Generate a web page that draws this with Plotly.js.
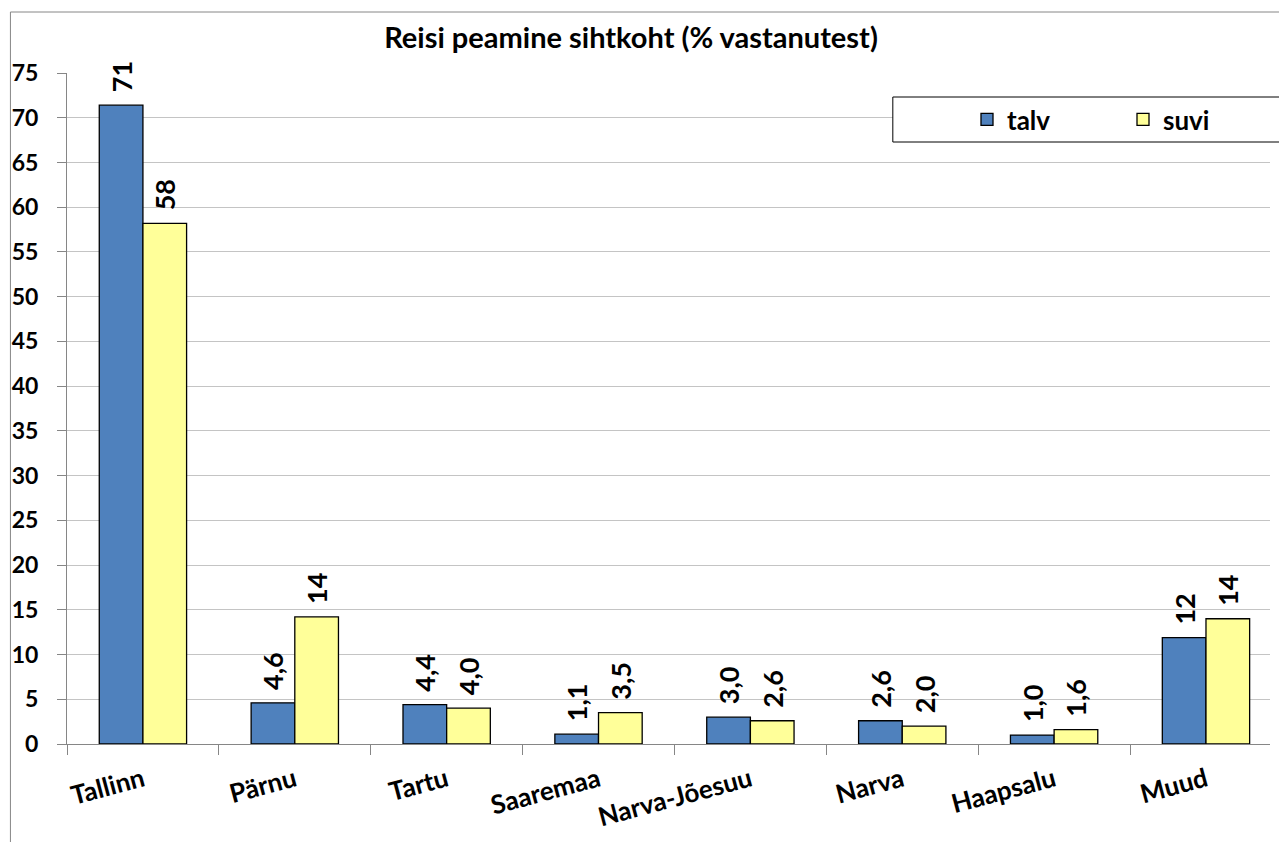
<!DOCTYPE html>
<html>
<head>
<meta charset="utf-8">
<script src="https://cdn.plot.ly/plotly-3.0.1.min.js"></script>
<style>
html,body{margin:0;padding:0;overflow:hidden;background:#fff;}
#chart{width:1279px;height:842px;}
</style>
</head>
<body>
<div id="chart"></div>
<script>
const categories = ["Tallinn","Pärnu","Tartu","Saaremaa","Narva-Jõesuu","Narva","Haapsalu","Muud"];
const talvValues = [71.4, 4.6, 4.4, 1.1, 3.0, 2.6, 1.0, 11.9];
const suviValues = [58.2, 14.2, 4.0, 3.5, 2.6, 2.0, 1.6, 14.0];
const talvLabels = ["71","4,6","4,4","1,1","3,0","2,6","1,0","12"];
const suviLabels = ["58","14","4,0","3,5","2,6","2,0","1,6","14"];
const yTicks = [0,5,10,15,20,25,30,35,40,45,50,55,60,65,70,75];

const FONT = "Lato, 'Open Sans', sans-serif";
const W = 1279, H = 842, ML = 67, MT = 73, MB = 98, MR = 0;
const pw = W - ML - MR, ph = H - MT - MB;
const px = x => (x - ML) / pw;
const py = y => (H - MB - y) / ph;
const pad = s => '\u00a0\u2009' + s;

const common = {
  type: 'bar',
  x: categories,
  textposition: 'outside',
  textangle: -90,
  constraintext: 'none',
  cliponaxis: false,
  textfont: {family: FONT, size: 27, color: '#000', weight: 700},
  hoverinfo: 'skip'
};

const traces = [
  Object.assign({}, common, {
    name: 'talv', y: talvValues, text: talvLabels.map(pad),
    marker: {color: '#4F81BD', line: {color: '#000', width: 1.3}}
  }),
  Object.assign({}, common, {
    name: 'suvi', y: suviValues, text: suviLabels.map(pad),
    marker: {color: '#FFFF99', line: {color: '#000', width: 1.3}}
  })
];

const layout = {
  width: W, height: H,
  margin: {l: ML, r: MR, t: MT, b: MB, pad: 0},
  paper_bgcolor: '#fff', plot_bgcolor: '#fff',
  font: {family: FONT, size: 24, color: '#000'},
  barmode: 'group',
  bargap: 0.425,
  bargroupgap: 0,
  title: {
    text: 'Reisi peamine sihtkoht (% vastanutest)',
    font: {family: FONT, size: 29, color: '#000', weight: 700},
    x: 631 / W, xref: 'container', xanchor: 'center',
    y: 1 - 38 / H, yref: 'container', yanchor: 'middle'
  },
  xaxis: {
    type: 'category',
    range: [-0.5, -0.5 + pw / 153],
    tickangle: -15,
    tickson: 'boundaries',
    ticks: 'outside', ticklen: 10, tickcolor: '#868686', tickwidth: 1,
    ticklabelstandoff: 10,
    showline: true, linecolor: '#868686', linewidth: 1,
    showgrid: false,
    tickfont: {family: FONT, size: 26, color: '#000', weight: 700},
    fixedrange: true
  },
  yaxis: {
    range: [0, 75],
    tickvals: yTicks,
    ticktext: yTicks.map(String),
    ticks: 'outside', ticklen: 9, tickcolor: '#868686', tickwidth: 1,
    ticklabelstandoff: 14,
    showline: true, linecolor: '#868686', linewidth: 1,
    showgrid: true, gridcolor: '#C4C4C4', gridwidth: 1,
    zeroline: false,
    tickfont: {family: FONT, size: 23, color: '#000', weight: 700},
    fixedrange: true
  },
  showlegend: true,
  legend: {
    orientation: 'h',
    x: px(974), xanchor: 'left',
    y: py(96), yanchor: 'top',
    bgcolor: 'rgba(0,0,0,0)',
    borderwidth: 0,
    font: {family: FONT, size: 26, color: '#000', weight: 700},
    entrywidth: 111, entrywidthmode: 'pixels',
    itemclick: false, itemdoubleclick: false
  },
  shapes: [
    {type: 'rect', xref: 'paper', yref: 'paper', layer: 'below',
     x0: px(10), x1: px(1290), y0: py(900), y1: py(12),
     line: {color: '#868686', width: 1}, fillcolor: 'rgba(0,0,0,0)'},
    {type: 'rect', xref: 'paper', yref: 'paper', layer: 'above',
     x0: px(899), x1: px(1300), y0: py(142), y1: py(97),
     line: {color: '#000', width: 1}, fillcolor: '#fff'}
  ]
};

Plotly.newPlot('chart', traces, layout, {displayModeBar: false, staticPlot: true});
</script>
</body>
</html>
